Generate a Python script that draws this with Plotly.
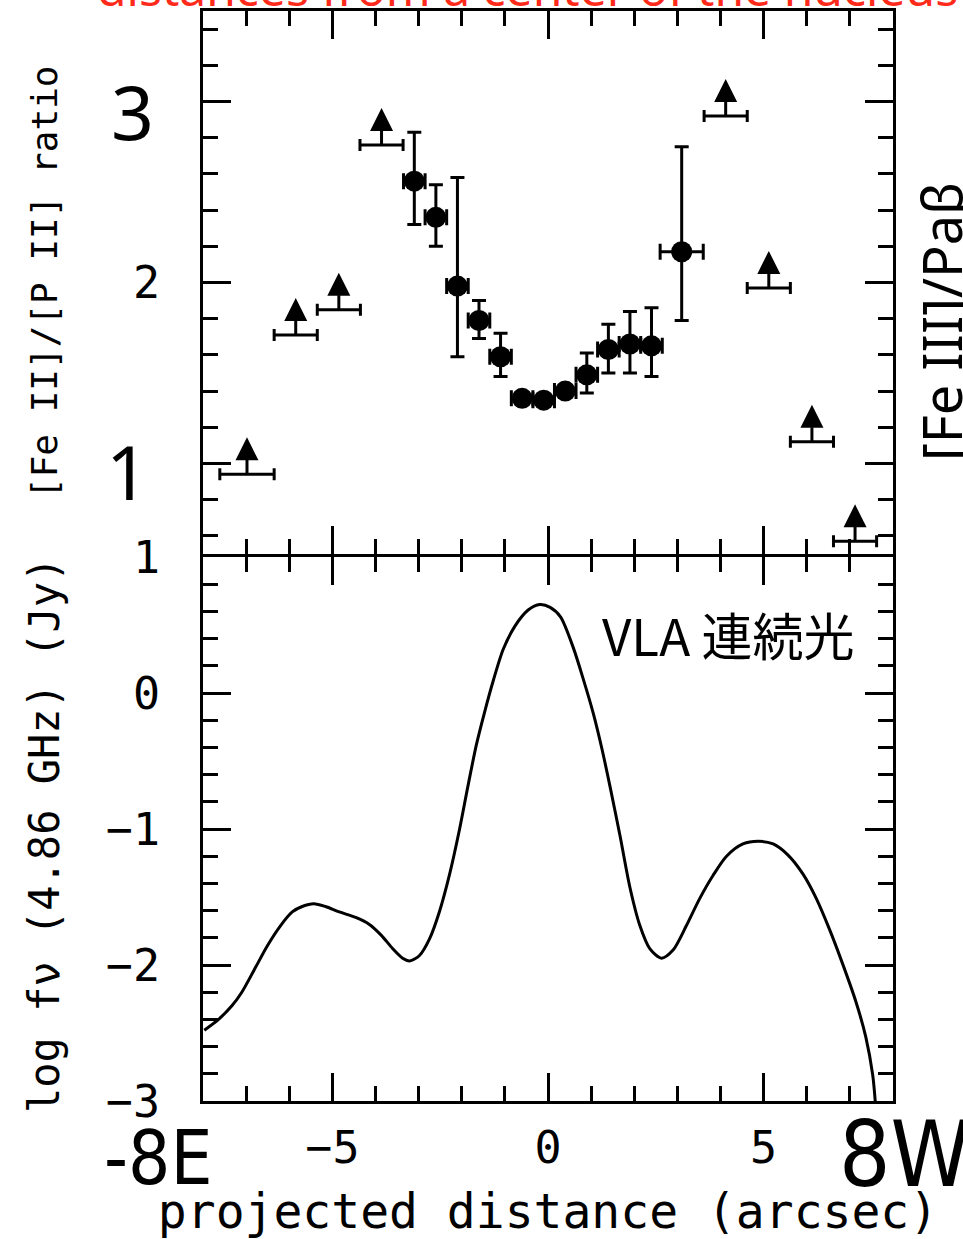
import plotly.graph_objects as go

# ---------------- data ----------------
# Top panel: measured [Fe II]/[P II] ratio (filled circles)
pt_x = [-3.1, -2.6, -2.1, -1.6, -1.1, -0.6, -0.1, 0.4, 0.9, 1.4, 1.9, 2.4, 3.1]
pt_y = [2.56, 2.36, 1.98, 1.79, 1.59, 1.36, 1.35, 1.40, 1.49, 1.63, 1.66, 1.65, 2.17]
pt_err_plus = [0.27, 0.18, 0.60, 0.11, 0.13, 0.0, 0.0, 0.0, 0.12, 0.14, 0.18, 0.21, 0.58]
pt_err_minus = [0.24, 0.16, 0.39, 0.10, 0.11, 0.0, 0.0, 0.0, 0.10, 0.13, 0.16, 0.17, 0.38]
pt_xerr = [0.25, 0.25, 0.25, 0.25, 0.25, 0.25, 0.25, 0.25, 0.25, 0.25, 0.25, 0.25, 0.5]

# Top panel: lower limits (triangles)
lim_x = [-6.98, -5.85, -4.85, -3.86, 4.12, 5.12, 6.12, 7.12]
lim_y = [0.94, 1.71, 1.85, 2.76, 2.92, 1.97, 1.12, 0.57]
lim_xerr = [0.63, 0.5, 0.5, 0.5, 0.5, 0.5, 0.5, 0.5]

# Bottom panel: VLA 4.86 GHz continuum profile
radio_x = [-7.97, -7.64, -7.33, -7.10, -6.82, -6.51, -6.20, -5.93, -5.70, -5.43,
           -5.16, -4.84, -4.46, -4.15, -3.87, -3.60, -3.37, -3.21, -2.98, -2.75,
           -2.52, -2.28, -2.05, -1.86, -1.66, -1.47, -1.27, -1.04, -0.77, -0.46,
           -0.19, 0.05, 0.29, 0.59, 0.82, 1.05, 1.25, 1.44, 1.67, 1.90,
           2.13, 2.36, 2.63, 2.90, 3.21, 3.52, 3.83, 4.14, 4.52, 4.87,
           5.22, 5.56, 5.91, 6.22, 6.53, 6.83, 7.14, 7.37, 7.53, 7.59]
radio_y = [-2.48, -2.40, -2.30, -2.20, -2.04, -1.86, -1.71, -1.61, -1.57, -1.55,
           -1.57, -1.61, -1.65, -1.70, -1.78, -1.88, -1.95, -1.97, -1.93, -1.81,
           -1.61, -1.33, -1.00, -0.69, -0.38, -0.14, 0.09, 0.32, 0.49, 0.61,
           0.65, 0.63, 0.56, 0.33, 0.10, -0.15, -0.41, -0.69, -1.05, -1.43,
           -1.71, -1.88, -1.95, -1.89, -1.71, -1.51, -1.34, -1.20, -1.11, -1.09,
           -1.11, -1.19, -1.33, -1.51, -1.74, -1.99, -2.27, -2.53, -2.81, -3.01]

x_ticks = [-5, 0, 5]
x_ticktext = ["\u22125", "0", "5"]
top_ticks = [1, 2, 3]
top_ticktext = ["", "2", ""]
bot_ticks = [-3, -2, -1, 0, 1]
bot_ticktext = ["\u22123", "\u22122", "\u22121", "0", "1"]

# ---------------- figure ----------------
MONO = "DejaVu Sans Mono"
SANS = "Noto Sans"
BLACK = "black"

fig = go.Figure()

# limit bars (horizontal bin bar + short stem)
fig.add_trace(go.Scatter(
    x=lim_x, y=lim_y, xaxis="x", yaxis="y", mode="markers",
    marker=dict(size=1, color=BLACK),
    error_x=dict(type="data", array=lim_xerr, symmetric=True, color=BLACK, thickness=3, width=6),
    error_y=dict(type="constant", value=0.08, valueminus=0, symmetric=False, color=BLACK, thickness=3, width=0),
    hoverinfo="skip"))
# triangles marking lower limits
fig.add_trace(go.Scatter(
    x=lim_x, y=lim_y, xaxis="x", yaxis="y", mode="markers",
    marker=dict(symbol="arrow-down", angle=180, standoff=37, size=23, color=BLACK,
                line=dict(width=0)),
    hoverinfo="skip"))
# measured points
fig.add_trace(go.Scatter(
    x=pt_x, y=pt_y, xaxis="x", yaxis="y", mode="markers",
    marker=dict(symbol="circle", size=21, color=BLACK),
    error_x=dict(type="data", array=pt_xerr, symmetric=True, color=BLACK, thickness=3, width=8),
    error_y=dict(type="data", array=pt_err_plus, arrayminus=pt_err_minus, symmetric=False,
                 color=BLACK, thickness=3, width=7),
    hoverinfo="skip"))
# radio profile
fig.add_trace(go.Scatter(
    x=radio_x, y=radio_y, xaxis="x2", yaxis="y2", mode="lines",
    line=dict(color=BLACK, width=3, shape="spline", smoothing=0.8),
    hoverinfo="skip"))

axis_common = dict(showline=True, linecolor=BLACK, linewidth=3, mirror="allticks",
                   ticks="inside", tickcolor=BLACK, tickwidth=3, ticklen=28,
                   showgrid=False, zeroline=False,
                   tickfont=dict(family=MONO, size=45, color=BLACK))
minor_x = dict(dtick=1, tick0=0, ticks="inside", ticklen=15, tickwidth=3, tickcolor=BLACK, showgrid=False)
minor_y = dict(dtick=0.2, tick0=0, ticks="inside", ticklen=15, tickwidth=3, tickcolor=BLACK, showgrid=False)

# panel boundaries (the shared frame line is drawn once, between 554 and 557 px)
TOP_LOW = (1101.0 - 554.0) / 1090.0
BOT_HIGH = (1101.0 - 557.0) / 1090.0
fig.update_layout(
    width=963, height=1239,
    margin=dict(l=203, r=70, t=11, b=138, pad=0, autoexpand=False),
    plot_bgcolor="white", paper_bgcolor="white", showlegend=False,
    xaxis=dict(domain=[0, 1], anchor="y", range=[-8, 8], tickmode="array", tickvals=x_ticks,
               showticklabels=False, minor=minor_x, **axis_common),
    yaxis=dict(domain=[TOP_LOW, 1], anchor="x", range=[0.5, 3.5], tickmode="array",
               tickvals=top_ticks, ticktext=top_ticktext, ticklabelstandoff=31,
               minor=minor_y, **axis_common),
    xaxis2=dict(domain=[0, 1], anchor="y2", range=[-8, 8], tickmode="array", tickvals=x_ticks,
                ticktext=x_ticktext, ticklabelstandoff=5, minor=minor_x,
                title=dict(text="projected distance (arcsec)", standoff=23,
                           font=dict(family=MONO, size=48, color=BLACK)),
                **axis_common),
    yaxis2=dict(domain=[0, BOT_HIGH], anchor="x2", range=[-3, 1], tickmode="array",
                tickvals=bot_ticks, ticktext=bot_ticktext, ticklabelstandoff=31,
                minor=minor_y, **axis_common),
)

def px_x(p):
    return (p - 203) / 690.0

def px_y(p):
    return (1101 - p) / 1090.0

annotations = [
    # y-axis titles
    dict(text="[Fe II]/[P II] ratio", x=px_x(44), y=px_y(283), textangle=-90,
         font=dict(family=MONO, size=36, color=BLACK)),
    dict(text="log f\u03bd (4.86 GHz) (Jy)", x=px_x(44), y=px_y(835), textangle=-90,
         font=dict(family=MONO, size=42, color=BLACK)),
    # overlay labels
    dict(text="3", x=px_x(132), y=px_y(111), font=dict(family=SANS, size=75, color=BLACK)),
    dict(text="1", x=px_x(127), y=px_y(471), font=dict(family=SANS, size=75, color=BLACK)),
    dict(text="-8E", x=px_x(158), y=px_y(1158),
         font=dict(family="Liberation Sans Narrow, DejaVu Sans Condensed, Roboto", size=74, color=BLACK)),
    dict(text="8W", x=px_x(905), y=px_y(1154),
         font=dict(family="Liberation Sans Narrow, DejaVu Sans Condensed, Roboto", size=90, color=BLACK)),
    dict(text="VLA 連続光", x=px_x(728), y=px_y(634),
         font=dict(family="Noto Sans CJK JP", size=51, color=BLACK)),
    # clipped texts at page edges
    dict(text="[Fe III]/Pa\u03b2", x=px_x(902), y=px_y(322), xanchor="left", textangle=-90,
         font=dict(family=SANS, size=54, color=BLACK)),
    dict(text="distances from a center of the nucleus", x=px_x(95), y=px_y(22),
         xanchor="left", yanchor="bottom",
         font=dict(family=SANS, size=48, color="#ff2a1a")),
]
for a in annotations:
    a.setdefault("xref", "paper")
    a.setdefault("yref", "paper")
    a.setdefault("showarrow", False)
    a.setdefault("xanchor", "center")
    a.setdefault("yanchor", "middle")
fig.update_layout(annotations=annotations)

fig.write_html("out.html", config={"displayModeBar": False},
               post_script="document.body.style.margin='0';")
